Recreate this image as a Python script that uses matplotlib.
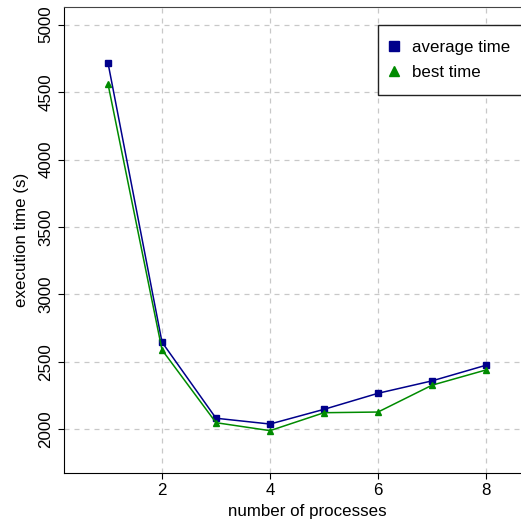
import matplotlib
matplotlib.use("Agg")
import matplotlib.pyplot as plt

# Data
processes = [1, 2, 3, 4, 5, 6, 7, 8]
average_time = [4716, 2646, 2082, 2039, 2148, 2267, 2359, 2475]
best_time = [4560, 2589, 2049, 1990, 2123, 2128, 2327, 2440]
x_ticks = [2, 4, 6, 8]
y_ticks = [2000, 2500, 3000, 3500, 4000, 4500, 5000]

plt.rcParams['font.family'] = ['Liberation Sans', 'DejaVu Sans']
FS = 12.2

W, H = 521, 519
fig = plt.figure(figsize=(W / 100, H / 100), dpi=100)

# axes run past the right edge of the picture, like the reference
px_per_unit = 54.0
x0, x1 = 0.185, 9.2
left_px, top_px, bottom_px = 64, 7, 473
ax = fig.add_axes([left_px / W, 1 - bottom_px / H,
                   (x1 - x0) * px_per_unit / W, (bottom_px - top_px) / H])

ax.plot(processes, average_time, color='#00008b', marker='s', markersize=4.5,
        linewidth=1.1, label='average time')
ax.plot(processes, best_time, color='#008b00', marker='^', markersize=4.5,
        linewidth=1.1, label='best time')

ax.set_xlim(x0, x1)
ax.set_ylim(1676, 5131)
ax.set_xticks(x_ticks)
ax.set_yticks(y_ticks)
ax.tick_params(labelsize=FS, length=4, direction='out')
for lab in ax.get_yticklabels():
    lab.set_rotation(90)
    lab.set_va('center')
ax.grid(True, color='#c8c8c8', linestyle=(0, (4, 4)), linewidth=0.9)
ax.set_axisbelow(True)
ax.spines['right'].set_visible(False)
ax.spines['top'].set_color('#444444')

ax.set_xlabel('number of processes', fontsize=FS, labelpad=4)
ax.set_ylabel('execution time (s)', fontsize=FS, labelpad=7)

leg = ax.legend(loc='upper left', bbox_to_anchor=(378 / W, 1 - 25 / H),
                bbox_transform=fig.transFigure, borderaxespad=0,
                fontsize=FS, fancybox=False,
                framealpha=1, edgecolor='#222222', markerscale=1.6,
                handlelength=0.1, handletextpad=1.01, borderpad=0.9,
                labelspacing=0.55)
for h in leg.legend_handles:
    h.set_linestyle('None')
leg.get_frame().set_linewidth(1.0)

fig.savefig('out.png', dpi=100)
